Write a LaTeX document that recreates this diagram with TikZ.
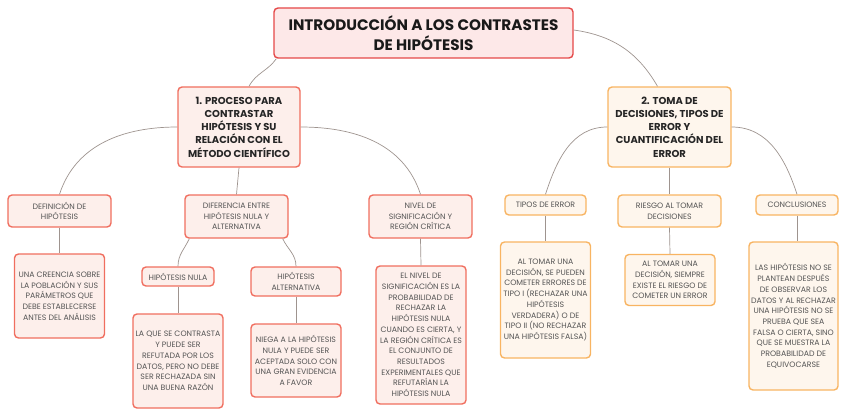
\documentclass[tikz,border=0pt]{standalone}
\usepackage{fontspec}
\setmainfont{Poppins}
\usepackage{tikz}
\definecolor{rootline}{RGB}{229,72,72}
\definecolor{rootfill}{RGB}{253,232,232}
\definecolor{redline}{RGB}{240,110,95}
\definecolor{redfill}{RGB}{253,239,235}
\definecolor{orangeline}{RGB}{248,180,98}
\definecolor{orangefill}{RGB}{254,246,237}
\definecolor{linkgray}{RGB}{158,148,143}
\definecolor{leaftext}{RGB}{85,85,85}

\begin{document}
\begin{tikzpicture}[
  x=1pt, y=-1pt,
  box/.style={draw, rounded corners=4pt, line width=1.4pt, align=center,
              inner sep=0pt, text=leaftext,
              font=\fontsize{7.8}{10.7}\selectfont},
  redbox/.style={box, draw=redline, fill=redfill},
  orangebox/.style={box, draw=orangeline, fill=orangefill},
  headbox/.style={font=\fontsize{10}{13.3}\selectfont\bfseries, text=black!85},
  link/.style={draw=linkgray, line width=0.7pt}
]
  \useasboundingbox (0,0) rectangle (848,417);

  % root and first level
  \node[box, draw=rootline, fill=rootfill, minimum width=299pt, minimum height=50pt,
        font=\fontsize{15.2}{19.3}\selectfont\bfseries, text=black!90]
        (root) at (423.5,33) {INTRODUCCIÓN A LOS CONTRASTES\\DE HIPÓTESIS};
  \node[redbox, headbox, minimum width=122pt, minimum height=80pt]
        (proc) at (239,127) {1. PROCESO PARA\\CONTRASTAR\\HIPÓTESIS Y SU\\RELACIÓN CON EL\\MÉTODO CIENTÍFICO};
  \node[orangebox, headbox, minimum width=123pt, minimum height=80pt]
        (toma) at (669.5,127) {2. TOMA DE\\DECISIONES, TIPOS DE\\ERROR Y\\CUANTIFICACIÓN DEL\\ERROR};

  % second level
  \node[redbox, minimum width=103pt, minimum height=32pt]
        (defin) at (59.5,211) {DEFINICIÓN DE\\HIPÓTESIS};
  \node[redbox, minimum width=103pt, minimum height=43pt]
        (difer) at (236.5,216.5) {DIFERENCIA ENTRE\\HIPÓTESIS NULA Y\\ALTERNATIVA};
  \node[redbox, minimum width=103pt, minimum height=43pt]
        (nivel) at (420.5,216.5) {NIVEL DE\\SIGNIFICACIÓN Y\\REGIÓN CRÍTICA};
  \node[orangebox, minimum width=81pt, minimum height=20pt]
        (tipos) at (545.5,205) {TIPOS DE ERROR};
  \node[orangebox, minimum width=103pt, minimum height=32pt]
        (riesgo) at (669.5,211) {RIESGO AL TOMAR\\DECISIONES};
  \node[orangebox, minimum width=82pt, minimum height=20pt]
        (concl) at (797,205) {CONCLUSIONES};

  % null and alternative
  \node[redbox, minimum width=72pt, minimum height=19pt]
        (nula) at (178,276.5) {HIPÓTESIS NULA};
  \node[redbox, minimum width=90pt, minimum height=29pt]
        (alter) at (296,281.5) {HIPÓTESIS\\ALTERNATIVA};

  % leaves
  \node[redbox, minimum width=90pt, minimum height=84pt]
        (definT) at (59.5,296) {UNA CREENCIA SOBRE\\LA POBLACIÓN Y SUS\\PARÁMETROS QUE\\DEBE ESTABLECERSE\\ANTES DEL ANÁLISIS};
  \node[redbox, minimum width=90pt, minimum height=94pt]
        (nulaT) at (178,361) {LA QUE SE CONTRASTA\\Y PUEDE SER\\REFUTADA POR LOS\\DATOS, PERO NO DEBE\\SER RECHAZADA SIN\\UNA BUENA RAZÓN};
  \node[redbox, minimum width=90pt, minimum height=73pt]
        (alterT) at (296,360.5) {NIEGA A LA HIPÓTESIS\\NULA Y PUEDE SER\\ACEPTADA SOLO CON\\UNA GRAN EVIDENCIA\\A FAVOR};
  \node[redbox, minimum width=90pt, minimum height=138pt]
        (nivelT) at (421,335) {EL NIVEL DE\\SIGNIFICACIÓN ES LA\\PROBABILIDAD DE\\RECHAZAR LA\\HIPÓTESIS NULA\\CUANDO ES CIERTA, Y\\LA REGIÓN CRÍTICA ES\\EL CONJUNTO DE\\RESULTADOS\\EXPERIMENTALES QUE\\REFUTARÍAN LA\\HIPÓTESIS NULA};
  \node[orangebox, minimum width=90pt, minimum height=116pt]
        (tiposT) at (545.5,300) {AL TOMAR UNA\\DECISIÓN, SE PUEDEN\\COMETER ERRORES DE\\TIPO I (RECHAZAR UNA\\HIPÓTESIS\\VERDADERA) O DE\\TIPO II (NO RECHAZAR\\UNA HIPÓTESIS FALSA)};
  \node[orangebox, minimum width=90pt, minimum height=51pt]
        (riesgoT) at (670,280) {AL TOMAR UNA\\DECISIÓN, SIEMPRE\\EXISTE EL RIESGO DE\\COMETER UN ERROR};
  \node[orangebox, minimum width=89pt, minimum height=148pt]
        (conclT) at (793.5,316) {LAS HIPÓTESIS NO SE\\PLANTEAN DESPUÉS\\DE OBSERVAR LOS\\DATOS Y AL RECHAZAR\\UNA HIPÓTESIS NO SE\\PRUEBA QUE SEA\\FALSA O CIERTA, SINO\\QUE SE MUESTRA LA\\PROBABILIDAD DE\\EQUIVOCARSE};

  % connectors
  \draw[link] ([xshift=3pt]root.south west) to[out=-125,in=62] ([xshift=10pt]proc.north);
  \draw[link] ([yshift=3pt]root.east) to[out=-8,in=120] ([xshift=-12pt]toma.north);
  \draw[link] (proc.west) to[out=180,in=72] (defin.north);
  \draw[link] (proc.south) -- (difer.north);
  \draw[link] (proc.east) to[out=0,in=108] (nivel.north);
  \draw[link] (toma.west) to[out=180,in=72] (tipos.north);
  \draw[link] (toma.south) -- (riesgo.north);
  \draw[link] (toma.east) to[out=0,in=108] (concl.north);
  \draw[link] ([xshift=5pt]difer.south west) to[out=-115,in=90] (nula.north);
  \draw[link] ([xshift=-6pt]difer.south east) to[out=-65,in=90] (alter.north);
  \draw[link] (defin.south) -- (definT.north);
  \draw[link] (nula.south) -- (nulaT.north);
  \draw[link] (alter.south) -- (alterT.north);
  \draw[link] (nivel.south) -- (nivelT.north);
  \draw[link] (tipos.south) -- (tiposT.north);
  \draw[link] (riesgo.south) -- (riesgoT.north);
  \draw[link] (concl.south) -- ([xshift=3.5pt]conclT.north);
\end{tikzpicture}
\end{document}
